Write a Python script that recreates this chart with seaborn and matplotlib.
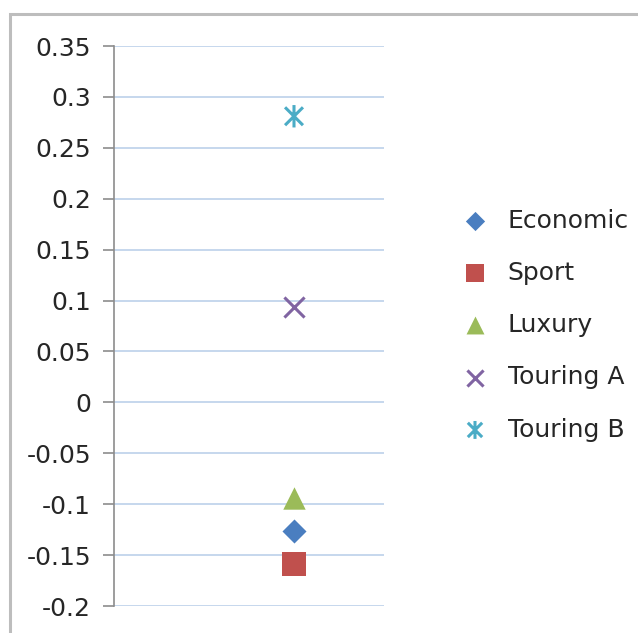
import matplotlib
matplotlib.use("Agg")
import matplotlib.pyplot as plt
import seaborn as sns
from matplotlib.path import Path
from matplotlib.patches import Rectangle

categories = ["Economic", "Sport", "Luxury", "Touring A", "Touring B"]
x_values = [1, 1, 1, 1, 1]
y_values = [-0.126, -0.159, -0.094, 0.094, 0.281]
y_ticks = [-0.2, -0.15, -0.1, -0.05, 0, 0.05, 0.1, 0.15, 0.2, 0.25, 0.3, 0.35]
y_tick_labels = ["-0.2", "-0.15", "-0.1", "-0.05", "0", "0.05", "0.1", "0.15",
                 "0.2", "0.25", "0.3", "0.35"]

colors = ["#4A7EC0", "#C0504D", "#9BBB59", "#8064A2", "#4BACC6"]
star = Path([(-1, -1), (1, 1), (-1, 1), (1, -1), (0, -1.25), (0, 1.25)],
            [Path.MOVETO, Path.LINETO, Path.MOVETO, Path.LINETO, Path.MOVETO, Path.LINETO])
markers = ["D", "s", "^", "x", star]
sizes = [150, 280, 260, 210, 260]
kind = ["filled", "filled", "filled", "line", "path"]

sns.set_style("white")
plt.rcParams["font.family"] = ["DejaVu Sans"]

fig = plt.figure(figsize=(6.38, 6.33), dpi=100)
ax = fig.add_axes([114 / 638, 1 - 606 / 633, (384 - 114) / 638, (606 - 46) / 633])

for cat, xv, yv, c, m, s, k in zip(categories, x_values, y_values, colors, markers, sizes, kind):
    if k == "filled":
        sns.scatterplot(x=[xv], y=[yv], marker=m, color=c, s=s, linewidth=0,
                        label=cat, ax=ax, zorder=3)
    elif k == "line":
        sns.scatterplot(x=[xv], y=[yv], marker=m, color=c, s=s, linewidth=2.2,
                        label=cat, ax=ax, zorder=3)
    else:
        sns.scatterplot(x=[xv], y=[yv], marker=m, color=c, edgecolor=c, facecolor="none",
                        s=s, linewidth=2.2, label=cat, ax=ax, zorder=3)

ax.set_xlim(0, 1.5)
ax.set_ylim(-0.2, 0.35)
ax.set_yticks(y_ticks)
ax.set_yticklabels(y_tick_labels)
ax.set_xticks([])
ax.set_xlabel("")
ax.set_ylabel("")
ax.yaxis.grid(True, color="#C2D4EC", linewidth=1.3)
ax.set_axisbelow(True)
for sp in ["top", "right", "bottom"]:
    ax.spines[sp].set_visible(False)
ax.spines["left"].set_color("#8C8C8C")
ax.spines["left"].set_linewidth(1.2)
ax.tick_params(axis="y", which="major", direction="out", length=8, width=1.2,
               color="#8C8C8C", labelsize=18, labelcolor="#262626", pad=8.5, left=True)

leg = ax.legend(loc="center left", bbox_to_anchor=(460 / 638, 1 - 325 / 633),
                bbox_transform=fig.transFigure, frameon=False, fontsize=18,
                labelspacing=1.13, handletextpad=0.7, handlelength=1.2,
                markerscale=0.8, borderpad=0, borderaxespad=0)
for t in leg.get_texts():
    t.set_color("#262626")

fig.patches.append(Rectangle((10 / 638, -0.1), 2, 1.1 - 14 / 633, transform=fig.transFigure,
                             fill=False, edgecolor="#BDBDBD", linewidth=2.2, figure=fig))

fig.savefig("out.png", dpi=100)
